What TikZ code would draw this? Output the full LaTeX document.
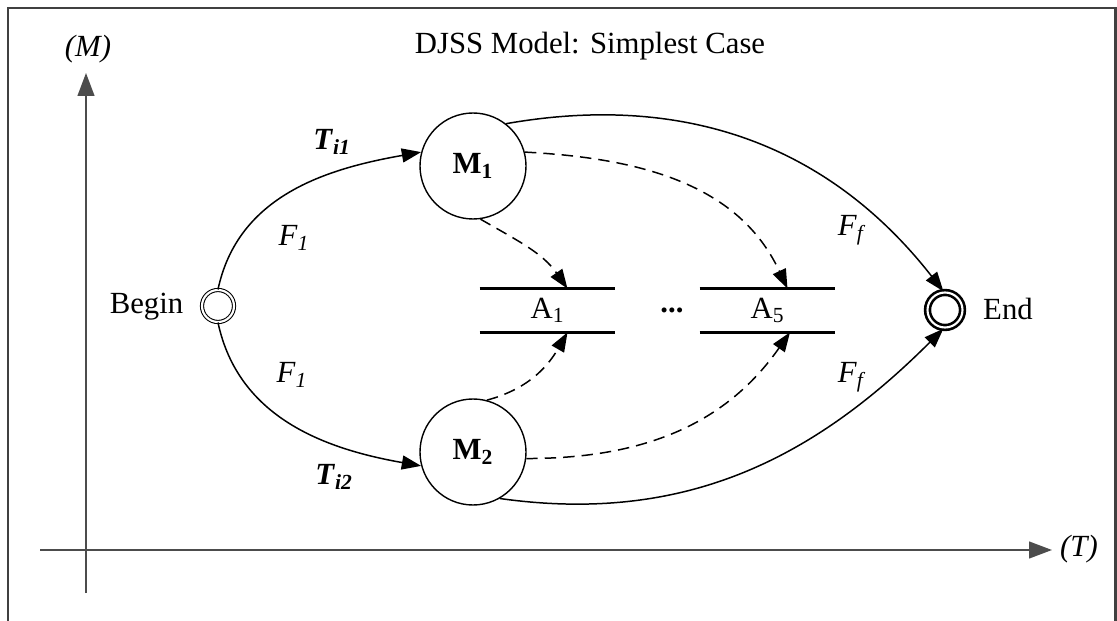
\documentclass[tikz,border=0pt]{standalone}
\usepackage{fontspec}
\setmainfont{Liberation Serif}
\usetikzlibrary{arrows.meta}

\begin{document}
\begin{tikzpicture}[
	every node/.style={font=\fontsize{17.5}{21}\selectfont},
	machine/.style={draw, circle, line width=0.8pt, minimum size=2.12cm, inner sep=0},
	store/.style={minimum width=2.70cm, minimum height=0.86cm, inner sep=0},
	flow/.style={line width=0.85pt, -{Triangle[length=11pt,width=8pt]}},
	dispatch/.style={flow, dash pattern=on 6.5pt off 4pt},
	bar/.style={line width=1.7pt},
	axis/.style={line width=1.1pt, draw=black!70, -{Triangle[length=13pt,width=9.5pt]}}
]
	\useasboundingbox (0,0) rectangle (22.34,-12.42);
	% Frame and axes:
	\draw[line width=1.7pt, draw=black!75] (0.16,-0.16) rectangle (22.30,-12.80);
	\coordinate (Vbot) at (1.72,-11.86);
	\coordinate (Vtop) at (1.72,-1.46);
	\coordinate (Hleft) at (0.80,-11.00);
	\coordinate (Hright) at (21.04,-11.00);
	\draw[axis] (Vbot) -- (Vtop);
	\draw[axis] (Hleft) -- (Hright);
	\node (Mlab) at (1.76,-0.98) {\textit{(M)}};
	\node (Tlab) at (21.58,-10.98) {\textit{(T)}};
	\node (Title) at (11.80,-0.92) {DJSS Model: Simplest Case};
	% Nodes:
	\node[draw, circle, double, line width=0.6pt, double distance=1.2pt, minimum size=0.64cm, inner sep=0] (Begin) at (4.36,-6.12) {};
	\node (BeginLab) at (2.93,-6.13) {Begin};
	\node[draw, circle, double, line width=1.5pt, double distance=1.2pt, minimum size=0.70cm, inner sep=0] (End) at (18.90,-6.20) {};
	\node (EndLab) at (20.16,-6.18) {End};
	\node[machine] (M1) at (9.46,-3.32) {\textbf{M}\textsubscript{\textbf{1}}};
	\node[machine] (M2) at (9.46,-9.04) {\textbf{M}\textsubscript{\textbf{2}}};
	\node[store] (A1) at (10.95,-6.21) {A\textsubscript{1}};
	\node[store] (A5) at (15.35,-6.21) {A\textsubscript{5}};
	\node (Dots) at (13.44,-6.20) {\textbf{...}};
	\draw[bar] (A1.north west) -- (A1.north east) (A1.south west) -- (A1.south east);
	\draw[bar] (A5.north west) -- (A5.north east) (A5.south west) -- (A5.south east);
	% Flows:
	\draw[flow] (Begin.north) to[out=78,in=190] (M1.165);
	\draw[flow] (Begin.south) to[out=-78,in=170] (M2.195);
	\draw[flow] (M1.52) to[out=10,in=128] (End.95);
	\draw[flow] (M2.-60) to[out=-8,in=225] (End.265);
	\draw[dispatch] (M1.-82) to[out=-30,in=125] ([xshift=0.4cm]A1.north);
	\draw[dispatch] (M1.15) to[out=-3,in=115] ([xshift=0.4cm]A5.north);
	\draw[dispatch] (M2.75) to[out=15,in=240] ([xshift=0.4cm]A1.south);
	\draw[dispatch] (M2.-7) to[out=0,in=235] ([xshift=0.45cm]A5.south);
	% Labels:
	\node (F1a) at (5.88,-4.76) {\textit{F}\textsubscript{\textit{1}}};
	\node (Ti1) at (6.64,-2.84) {\textbf{\textit{T}}\textsubscript{\textbf{\textit{i1}}}};
	\node (F1b) at (5.84,-7.50) {\textit{F}\textsubscript{\textit{1}}};
	\node (Ti2) at (6.68,-9.54) {\textbf{\textit{T}}\textsubscript{\textbf{\textit{i2}}}};
	\node (Ffa) at (17.04,-4.60) {\textit{F}\textsubscript{\textit{f}}};
	\node (Ffb) at (17.04,-7.54) {\textit{F}\textsubscript{\textit{f}}};
\end{tikzpicture}
\end{document}
